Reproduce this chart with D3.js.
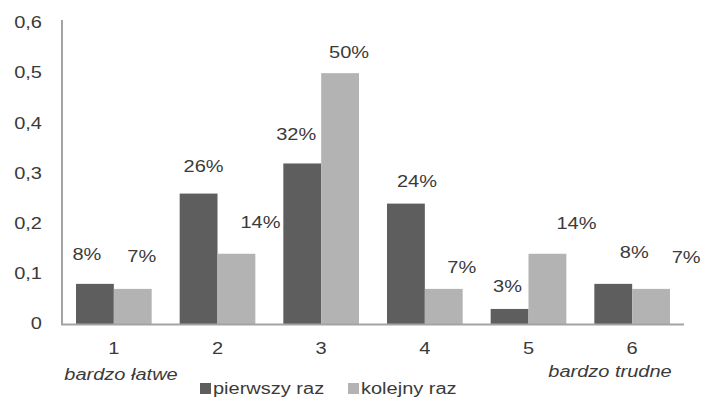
<!DOCTYPE html>
<html>
<head>
<meta charset="utf-8">
<script src="https://cdn.jsdelivr.net/npm/d3@7"></script>
<style>
  html, body { margin: 0; padding: 0; background: #fff; }
  svg { display: block; }
  text { font-family: "Liberation Sans", Arial, sans-serif; fill: #3a3a3a; }
</style>
</head>
<body>
<svg id="chart" width="702" height="397"></svg>
<script>
// Difficulty ratings 1..6, share of answers per attempt
const categories = ["1", "2", "3", "4", "5", "6"];
const seriesNames = ["pierwszy raz", "kolejny raz"];
const firstTime = [0.08, 0.26, 0.32, 0.24, 0.03, 0.08];
const nextTime = [0.07, 0.14, 0.50, 0.07, 0.14, 0.07];
const yTicks = [0, 0.1, 0.2, 0.3, 0.4, 0.5, 0.6];
const endLabels = ["bardzo łatwe", "bardzo trudne"];

// Hand-placed nudges for the value labels (px, relative to bar centre / top)
const labelNudge = [
  [[-8, -29], [9, -32]],
  [[5, -27], [24, -31]],
  [[-6, -29], [9, -20]],
  [[11, -22], [18, -21]],
  [[-2, -22], [29, -30]],
  [[21, -31], [35, -31]]
];

const colors = ["#5e5e5e", "#b3b3b3"];
const axisColor = "#a3a3a3";
const FS = 16, SX = 1.25; // text is drawn horizontally widened

const svg = d3.select("#chart");

const x0 = d3.scaleBand().domain(categories).range([62, 684])
  .paddingInner(0.27).paddingOuter(0.135);
const x1 = d3.scaleBand().domain([0, 1]).range([0, x0.bandwidth()]);
const y = d3.scaleLinear().domain([0, 0.6]).range([324, 23]);

const comma = d3.formatLocale({ decimal: ",", thousands: " ", grouping: [3], currency: ["", " zł"] });
const tickFmt = d => d === 0 ? "0" : comma.format(".1f")(d);
const pct = d3.format(".0%");

function label(g, x, yy, str, anchor, italic) {
  return g.append("text")
    .attr("transform", `translate(${x},${yy}) scale(${SX},1)`)
    .attr("text-anchor", anchor || "middle")
    .attr("dominant-baseline", "central")
    .style("font-size", FS + "px")
    .style("font-style", italic ? "italic" : null)
    .text(str);
}

// Y axis tick labels (no tick marks)
const yAxis = svg.append("g");
yTicks.forEach(t => label(yAxis, 42, y(t), tickFmt(t), "end"));

// Bars
const rows = categories.map((c, i) => ({ c, i, vals: [firstTime[i], nextTime[i]] }));
const groups = svg.append("g").selectAll("g").data(rows).join("g")
  .attr("transform", d => `translate(${x0(d.c)},0)`);
groups.selectAll("rect").data(d => d.vals.map((v, s) => ({ v, s }))).join("rect")
  .attr("x", d => x1(d.s))
  .attr("width", x1.bandwidth())
  .attr("y", d => y(d.v))
  .attr("height", d => y(0) - y(d.v))
  .attr("fill", d => colors[d.s]);

// Axes lines
svg.append("line").attr("x1", 62).attr("x2", 62).attr("y1", 20).attr("y2", y(0) + 1)
  .attr("stroke", axisColor).attr("stroke-width", 2);
svg.append("line").attr("x1", 61).attr("x2", 684).attr("y1", y(0) + 0.5).attr("y2", y(0) + 0.5)
  .attr("stroke", axisColor).attr("stroke-width", 2);

// Value labels
const vl = svg.append("g");
rows.forEach(r => r.vals.forEach((v, s) => {
  const cx = x0(r.c) + x1(s) + x1.bandwidth() / 2;
  const [dx, dy] = labelNudge[r.i][s];
  label(vl, cx + dx, y(v) + dy, pct(v));
}));

// Category labels
const xl = svg.append("g");
categories.forEach(c => label(xl, x0(c) + x0.bandwidth() / 2, 349, c));
label(xl, 121, 375, endLabels[0], "middle", true);
label(xl, 610, 372, endLabels[1], "middle", true);

// Legend
const lg = svg.append("g");
const legendX = [200, 348];
seriesNames.forEach((n, s) => {
  lg.append("rect").attr("x", legendX[s]).attr("y", 383).attr("width", 11).attr("height", 11)
    .attr("fill", colors[s]);
  label(lg, legendX[s] + 13, 389, n, "start");
});
</script>
</body>
</html>
